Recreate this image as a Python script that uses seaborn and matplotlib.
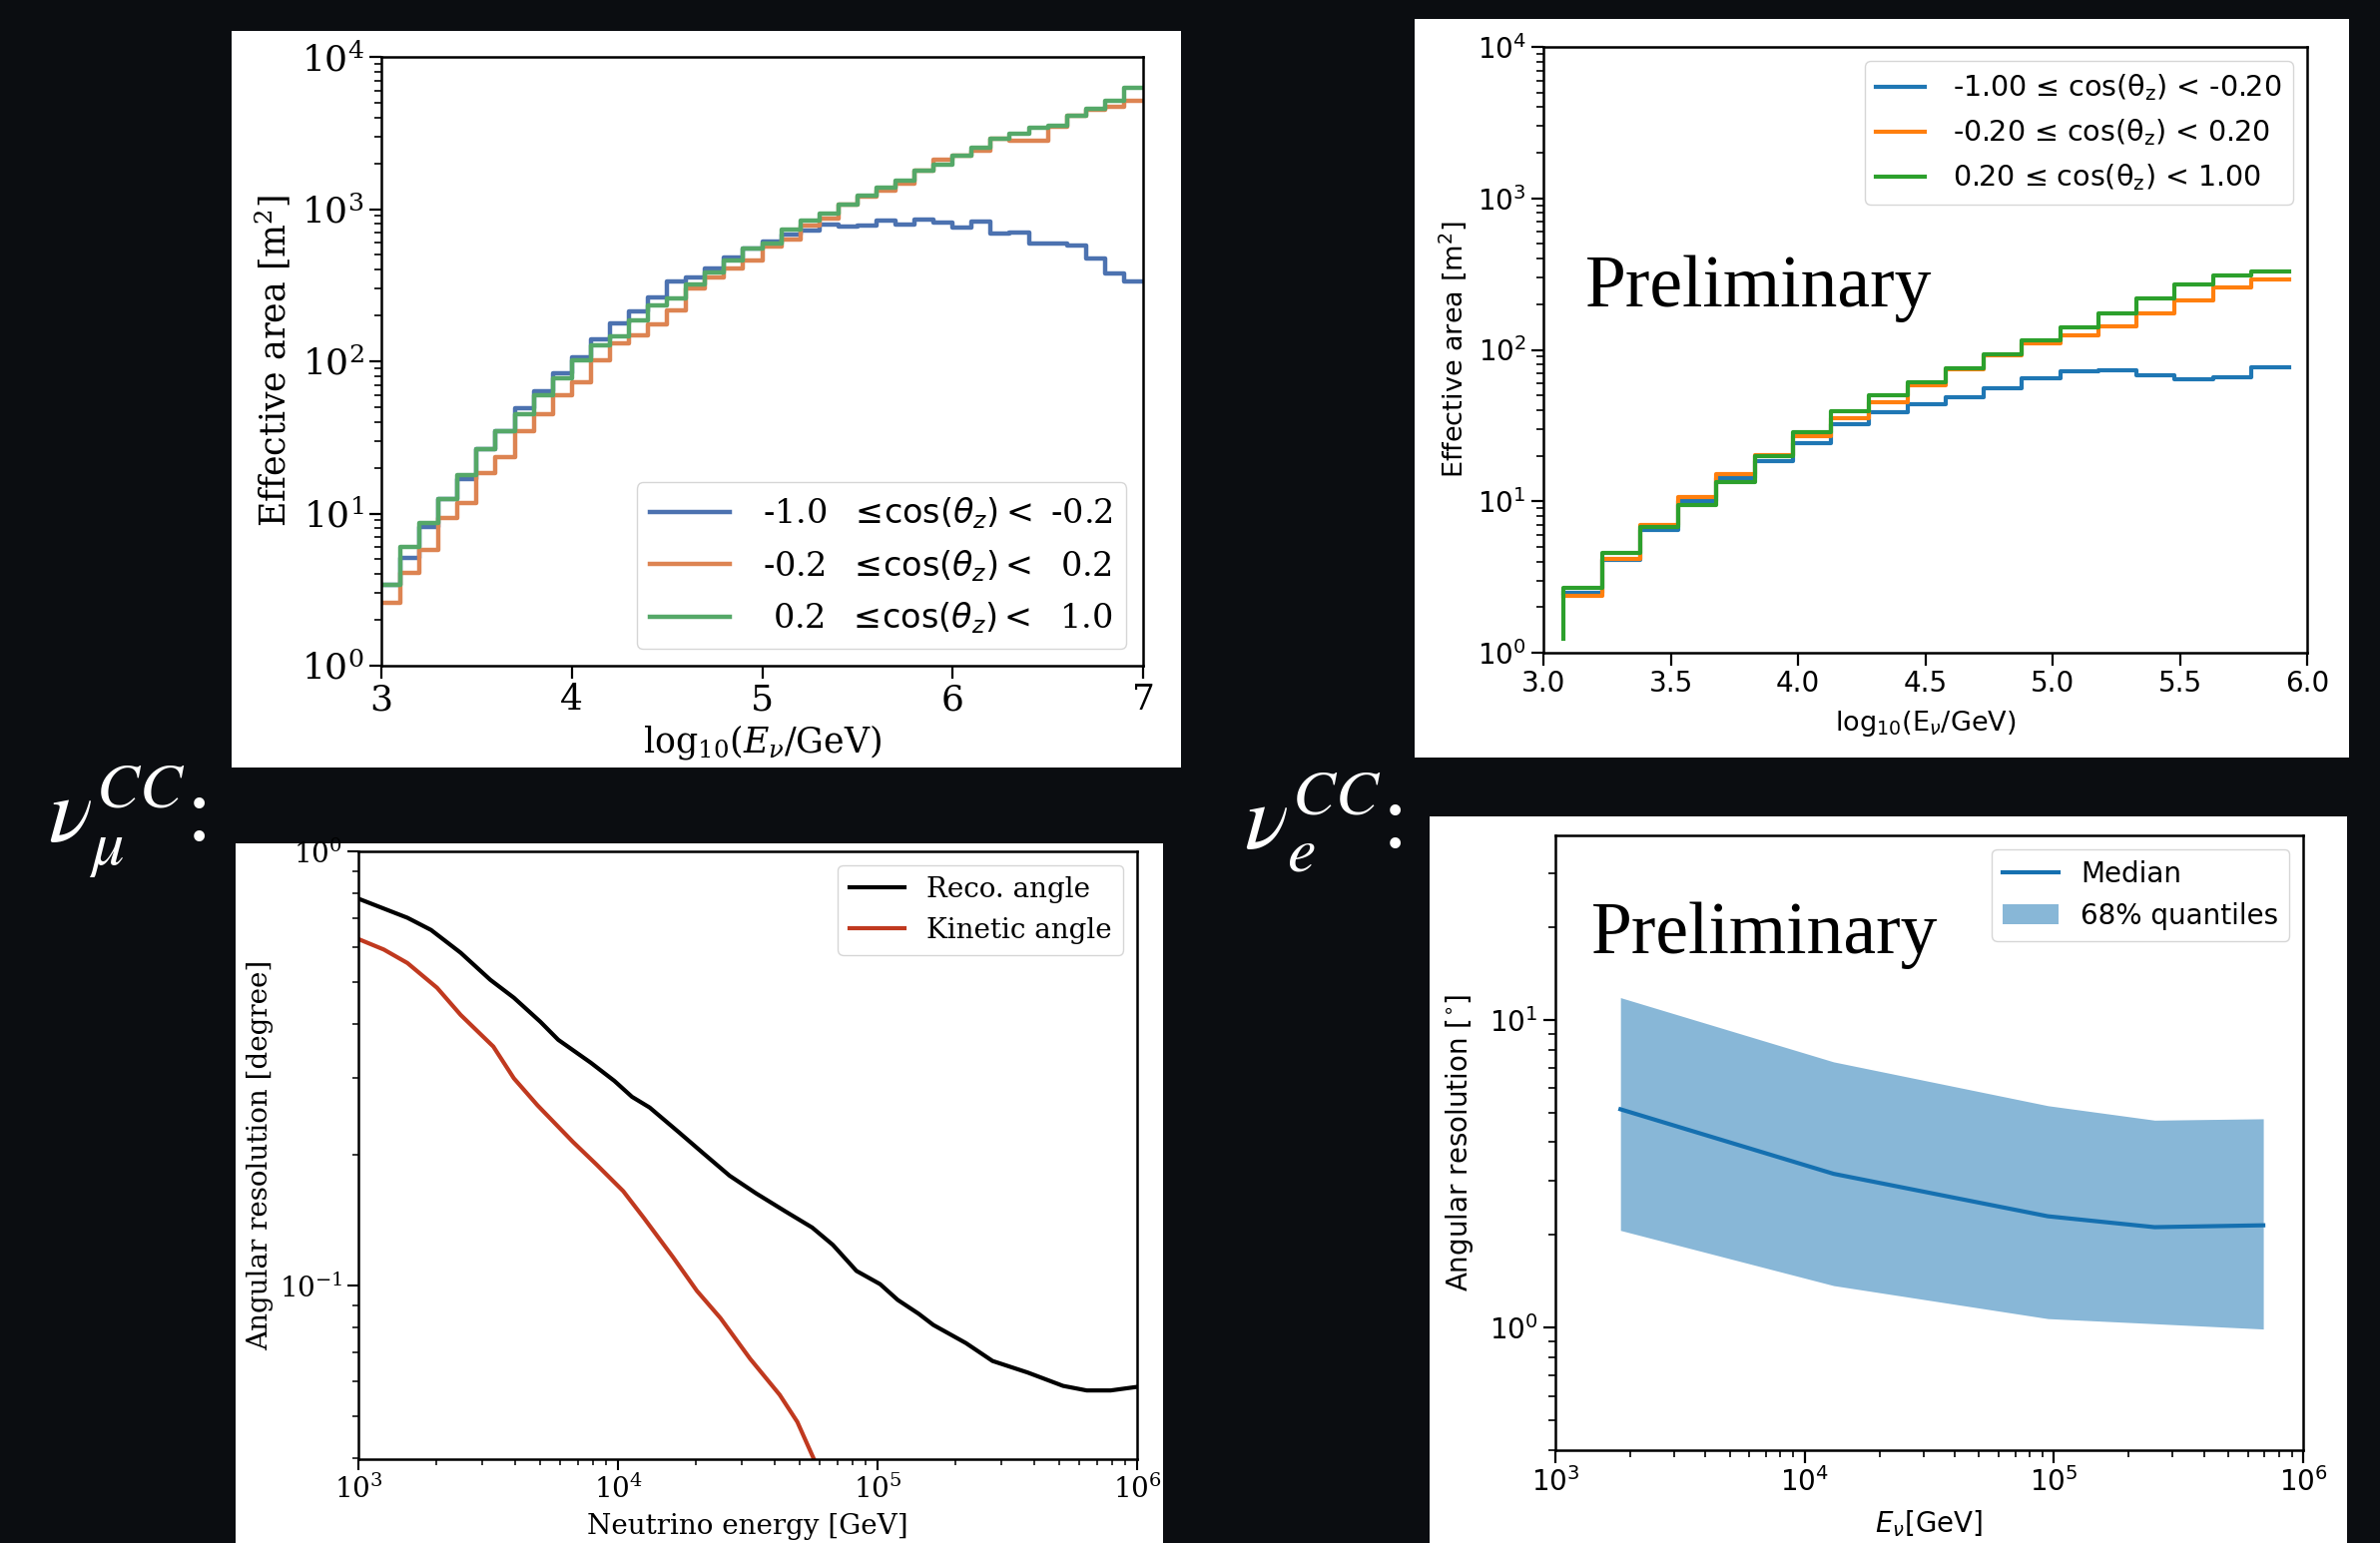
import numpy as np
import pandas as pd
import matplotlib
matplotlib.use("Agg")
import matplotlib.pyplot as plt
import seaborn as sns
from matplotlib.patches import Rectangle
from matplotlib.font_manager import FontProperties

# ---------------- data ----------------
# Panel 1 : nu_mu CC effective area (step histogram, bins of 0.1 in log10 E)
p1_edges = [3.0, 3.1, 3.2, 3.3, 3.4, 3.5, 3.6, 3.7, 3.8, 3.9, 4.0, 4.1, 4.2, 4.3,
            4.4, 4.5, 4.6, 4.7, 4.8, 4.9, 5.0, 5.1, 5.2, 5.3, 5.4, 5.5, 5.6, 5.7,
            5.8, 5.9, 6.0, 6.1, 6.2, 6.3, 6.4, 6.5, 6.6, 6.7, 6.8, 6.9, 7.0]
p1_up = [3.4, 5.1, 8.1, 12.4, 16.9, 26.5, 35, 49, 63.5, 84, 106, 139, 178, 214,
         262, 333, 356, 410, 480, 549, 610, 676, 725, 795, 770, 780, 840, 795,
         850, 820, 754, 826, 687, 700, 596, 596, 580, 474, 378, 333]
p1_hor = [2.6, 4.1, 5.8, 9.3, 11.8, 18.5, 23.5, 34.7, 45, 60, 73, 102, 132, 148,
          175, 216, 303, 356, 410, 458, 567, 630, 780, 870, 1075, 1200, 1330,
          1480, 1790, 2115, 2240, 2410, 2915, 2810, 2810, 3470, 4080, 4460, 4700, 5150]
p1_down = [3.4, 6.0, 8.6, 12.4, 17.9, 26.5, 35, 45, 60, 77, 102, 127, 146, 187,
           232, 259, 322, 383, 458, 549, 596, 738, 840, 930, 1075, 1230, 1390,
           1535, 1790, 1970, 2240, 2540, 2915, 3130, 3435, 3550, 4100, 4570, 5150, 6250]
p1_labels = [r"-1.0  $\leq\!\cos(\theta_z) <$ -0.2",
             r"-0.2  $\leq\!\cos(\theta_z) <$  0.2",
             r" 0.2  $\leq\!\cos(\theta_z) <$  1.0"]
p1_colors = ["#4c72b0", "#dd8452", "#55a868"]

# Panel 2 : nu_e CC effective area
p2_edges = [3.08, 3.23, 3.38, 3.53, 3.68, 3.83, 3.98, 4.13, 4.28, 4.43, 4.58,
            4.73, 4.88, 5.03, 5.18, 5.33, 5.48, 5.63, 5.78, 5.93]
p2_up = [2.5, 4.1, 6.46, 10.1, 14.3, 18.5, 24.1, 32.2, 38.6, 43.7, 49, 55.4,
         65, 72.5, 73.5, 68, 64, 65.5, 76.8]
p2_hor = [2.38, 4.16, 6.95, 10.7, 15.1, 20.1, 26.9, 35.2, 45.3, 58.7, 74, 92,
          110, 125, 142, 173, 211, 259, 293]
p2_down = [2.7, 4.57, 6.8, 9.4, 13.3, 19.9, 28.5, 39.5, 50.5, 61, 75, 94, 116,
           140, 174, 218, 270, 308, 331]
p2_start = [2.5, 2.38, 1.24]
p2_labels = [r"-1.00 ≤ cos(θ$_\mathrm{z}$) < -0.20",
             r"-0.20 ≤ cos(θ$_\mathrm{z}$) < 0.20",
             r"0.20 ≤ cos(θ$_\mathrm{z}$) < 1.00"]
p2_colors = ["#1f77b4", "#ff7f0e", "#2ca02c"]

# Panel 3 : nu_mu CC angular resolution
p3_reco_E = [1000, 1545, 1905, 2477, 3221, 3972, 5023, 5888, 7852, 9683, 11324,
             13243, 17219, 21232, 26915, 34041, 44259, 55976, 67298, 82985,
             102329, 119674, 143880, 164059, 218776, 277332, 379315, 518800,
             639735, 790679, 1000000]
p3_reco = [0.778, 0.703, 0.659, 0.584, 0.506, 0.46, 0.405, 0.368, 0.326, 0.296,
           0.272, 0.257, 0.225, 0.202, 0.179, 0.163, 0.148, 0.136, 0.124, 0.108,
           0.1007, 0.0926, 0.0861, 0.0811, 0.0737, 0.067, 0.063, 0.0587, 0.0573,
           0.0573, 0.0584]
p3_kin_E = [1000, 1253, 1545, 2009, 2477, 3311, 3972, 4898, 6714, 8260, 10471,
            12589, 16331, 20137, 24831, 32285, 41976, 49091, 56885, 60000]
p3_kin = [0.628, 0.594, 0.553, 0.485, 0.42, 0.355, 0.30, 0.26, 0.214, 0.19,
          0.165, 0.143, 0.116, 0.0972, 0.0841, 0.0678, 0.056, 0.0485, 0.0398, 0.037]

# Panel 4 : nu_e CC angular resolution
p4_E = [1824, 13060, 94600, 253600, 692000]
p4_med = [5.12, 3.16, 2.30, 2.12, 2.15]
p4_lo = [2.07, 1.37, 1.07, 1.03, 0.99]
p4_hi = [11.8, 7.3, 5.26, 4.72, 4.77]

# ---------------- layout ----------------
W, H = 2384, 1546
BG = "#0b0d11"


def rect(l, t, r, b):
    return [l / W, 1 - b / H, (r - l) / W, (b - t) / H]


def fix_ticks(ax, family, mathfam, size):
    for axis in (ax.xaxis, ax.yaxis):
        for t in axis.get_major_ticks() + axis.get_minor_ticks():
            for lab in (t.label1, t.label2):
                lab.set_fontfamily(family)
                lab.set_math_fontfamily(mathfam)
                lab.set_fontsize(size)


fig = plt.figure(figsize=(W / 100, H / 100), dpi=100, facecolor=BG)

for (l, t, r, b) in [(232, 31, 1183, 769), (1417, 19, 2353, 759),
                     (236, 845, 1165, 1546), (1432, 818, 2351, 1546)]:
    fig.add_artist(Rectangle((l / W, 1 - b / H), (r - l) / W, (b - t) / H,
                             transform=fig.transFigure, facecolor="white",
                             edgecolor="none", zorder=-10))

serif_rc = {"font.family": "DejaVu Serif", "mathtext.fontset": "dejavuserif"}
sans_rc = {"font.family": "DejaVu Sans", "mathtext.fontset": "dejavusans"}

# ---- Panel 1 ----
with plt.rc_context(serif_rc):
    ax1 = fig.add_axes(rect(382, 57, 1145, 667))
    for vals, col, lab in zip([p1_up, p1_hor, p1_down], p1_colors, p1_labels):
        sns.lineplot(x=p1_edges, y=[vals[0]] + list(vals), drawstyle="steps-pre",
                     color=col, lw=3.2, label=lab, ax=ax1)
    ax1.set_yscale("log")
    ax1.set_xlim(3, 7)
    ax1.set_ylim(1, 1e4)
    ax1.set_xticks([3, 4, 5, 6, 7])
    ax1.set_xlabel(r"log$_{10}$($E_\nu$/GeV)", fontsize=25, labelpad=4)
    ax1.set_ylabel("Effective area [m$^2$]", fontsize=25, labelpad=6)
    ax1.legend(loc="lower right",
               prop=FontProperties(family="DejaVu Serif", size=24,
                                   math_fontfamily="dejavusans"),
               handlelength=2.4, handletextpad=1.0)
    ax1.tick_params(which="major", length=9, width=1.6)
    ax1.tick_params(which="minor", length=5, width=1.2)
    for s in ax1.spines.values():
        s.set_linewidth(1.8)
    fix_ticks(ax1, "DejaVu Serif", "dejavuserif", 26)

# ---- Panel 2 ----
with plt.rc_context(sans_rc):
    ax2 = fig.add_axes(rect(1546, 47, 2311, 654))
    for vals, st, col, lab in zip([p2_up, p2_hor, p2_down], p2_start, p2_colors, p2_labels):
        sns.lineplot(x=p2_edges, y=[st] + list(vals), drawstyle="steps-pre",
                     color=col, lw=3.0, label=lab, ax=ax2)
    ax2.set_yscale("log")
    ax2.set_xlim(3.0, 6.0)
    ax2.set_ylim(1, 1e4)
    ax2.set_xticks([3.0, 3.5, 4.0, 4.5, 5.0, 5.5, 6.0])
    ax2.set_xlabel(r"log$_{10}$(E$_{\nu}$/GeV)", fontsize=19.5, labelpad=8)
    ax2.set_ylabel("Effective area [m$^2$]", fontsize=19.5, labelpad=6)
    ax2.legend(loc="upper right", prop=FontProperties(family="DejaVu Sans", size=20.5),
               handlelength=1.7, handletextpad=1.0)
    ax2.text(0.055, 0.571, "Preliminary", transform=ax2.transAxes,
             family="Liberation Serif", fontsize=53, ha="left", va="baseline")
    ax2.tick_params(which="major", length=9, width=1.6)
    ax2.tick_params(which="minor", length=5, width=1.2)
    for s in ax2.spines.values():
        s.set_linewidth(1.8)
    fix_ticks(ax2, "DejaVu Sans", "dejavusans", 20)

# ---- Panel 3 ----
with plt.rc_context(serif_rc):
    ax3 = fig.add_axes(rect(359, 853, 1139, 1462))
    sns.lineplot(x=p3_reco_E, y=p3_reco, color="black", lw=3.0,
                 label="Reco. angle", ax=ax3)
    sns.lineplot(x=p3_kin_E, y=p3_kin, color="#c0391f", lw=3.0,
                 label="Kinetic angle", ax=ax3)
    ax3.set_xscale("log")
    ax3.set_yscale("log")
    ax3.set_xlim(1e3, 1e6)
    ax3.set_ylim(0.0398, 1.0)
    ax3.set_xlabel("Neutrino energy [GeV]", fontsize=20, labelpad=6)
    ax3.set_ylabel("Angular resolution [degree]", fontsize=20, labelpad=4)
    ax3.legend(loc="upper right", prop=FontProperties(family="DejaVu Serif", size=20),
               handlelength=2.0)
    ax3.tick_params(which="major", length=8, width=1.5)
    ax3.tick_params(which="minor", length=4.5, width=1.1)
    for s in ax3.spines.values():
        s.set_linewidth(1.8)
    fix_ticks(ax3, "DejaVu Serif", "dejavuserif", 20)

# ---- Panel 4 ----
with plt.rc_context(sans_rc):
    ax4 = fig.add_axes(rect(1558, 837, 2307, 1453))
    ax4.fill_between(p4_E, p4_lo, p4_hi, color="#1f77b4", alpha=0.53, lw=0,
                     label="68% quantiles")
    sns.lineplot(x=p4_E, y=p4_med, color="#1570b0", lw=3.0, label="Median", ax=ax4)
    ax4.set_xscale("log")
    ax4.set_yscale("log")
    ax4.set_xlim(1e3, 1e6)
    ax4.set_ylim(0.4, 39.7)
    ax4.set_xlabel(r"$E_\nu$[GeV]", fontsize=20, labelpad=8)
    ax4.set_ylabel(r"Angular resolution [$^{\circ}$]", fontsize=20, labelpad=10)
    h, l = ax4.get_legend_handles_labels()
    order = [l.index("Median"), l.index("68% quantiles")]
    ax4.legend([h[i] for i in order], [l[i] for i in order], loc="upper right",
               prop=FontProperties(family="DejaVu Sans", size=20), handlelength=2.0)
    ax4.text(0.048, 0.808, "Preliminary", transform=ax4.transAxes,
             family="Liberation Serif", fontsize=53, ha="left", va="baseline")
    ax4.tick_params(which="major", length=9, width=1.6)
    ax4.tick_params(which="minor", length=5, width=1.2)
    for s in ax4.spines.values():
        s.set_linewidth(1.8)
    fix_ticks(ax4, "DejaVu Sans", "dejavusans", 20)

# dark strip that crops the bottom-left panel on its right side
fig.add_artist(Rectangle((1165 / W, 0), 60 / W, 1 - 845 / H, transform=fig.transFigure,
                         facecolor=BG, edgecolor="none", zorder=5))

# channel labels
fig.text(48 / W, 1 - 842 / H, r"$\nu_\mu^{CC}$:", color="white", fontsize=66,
         ha="left", va="baseline", family="Liberation Serif", math_fontfamily="stix")
fig.text(1246 / W, 1 - 850 / H, r"$\nu_e^{CC}$:", color="white", fontsize=66,
         ha="left", va="baseline", family="Liberation Serif", math_fontfamily="stix")

fig.savefig("out.png", dpi=100, facecolor=BG)
